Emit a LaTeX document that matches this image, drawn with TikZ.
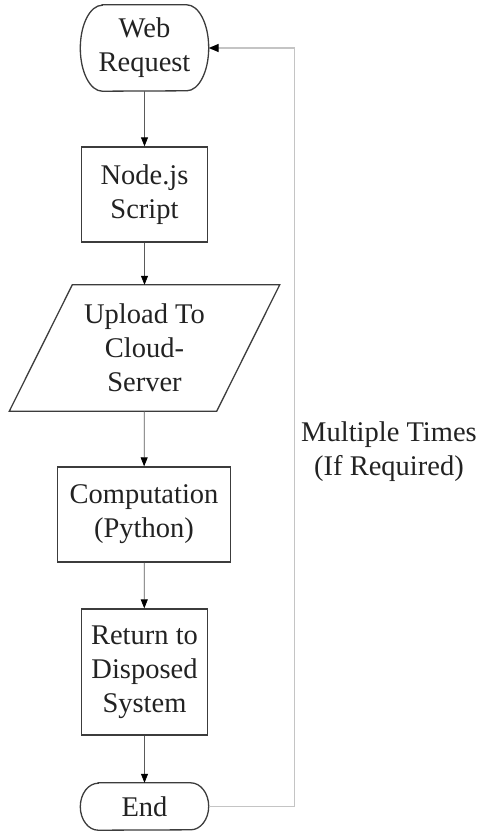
\documentclass[tikz,border=0pt]{standalone}
\usepackage{fontspec}
\setmainfont{Liberation Serif}
\usetikzlibrary{arrows.meta}
\definecolor{boxc}{HTML}{3C3C3C}
\definecolor{connc}{HTML}{5A5A5A}
\definecolor{fbc}{HTML}{C4C4C4}
\definecolor{txtc}{HTML}{222222}
\begin{document}
\begin{tikzpicture}[x=1pt,y=-1pt,
  txt/.style={align=center, inner sep=0pt, text=txtc, font=\fontsize{28.5}{34}\selectfont},
  box/.style={txt, draw=boxc, line width=1.3pt},
  outline/.style={draw=boxc, line width=1.3pt},
  conn/.style={draw=connc, line width=0.8pt, -{Triangle[length=9pt,width=7pt,color=black]}},
  fb/.style={draw=fbc, line width=1.4pt, -{Triangle[length=10pt,width=8pt,color=black]}}]
\useasboundingbox (0,0) rectangle (482,832);
\node[txt, minimum width=128pt, minimum height=86pt] (web) at (144.5,48) {Web\\Request};
\node[box, minimum width=126pt, minimum height=95pt] (nodejs) at (144.5,194.5) {Node.js\\Script};
\node[txt, minimum width=270pt, minimum height=126pt] (upload) at (144.5,348) {Upload To\\Cloud-\\Server};
\node[box, minimum width=173pt, minimum height=95pt] (comp) at (144,514.5) {Computation\\(Python)};
\node[box, minimum width=126pt, minimum height=126pt] (ret) at (144.5,672) {Return to\\Disposed\\System};
\node[txt, minimum width=128pt, minimum height=47pt] (end) at (144.5,806.5) {End};
\node[txt, anchor=base] (lbl) at (389,475) {Multiple Times\\(If Required)};
% terminal shapes
\draw[outline] ([xshift=22pt]web.north west) -- ([xshift=-22pt]web.north east)
  arc[start angle=90,end angle=-90,x radius=22pt,y radius=43pt]
  -- ([xshift=22pt]web.south west)
  arc[start angle=270,end angle=90,x radius=22pt,y radius=43pt] -- cycle;
\draw[outline] ([xshift=18pt]end.north west) -- ([xshift=-18pt]end.north east)
  arc[start angle=90,end angle=-90,x radius=18pt,y radius=23.5pt]
  -- ([xshift=18pt]end.south west)
  arc[start angle=270,end angle=90,x radius=18pt,y radius=23.5pt] -- cycle;
% parallelogram
\draw[outline] ([xshift=63pt]upload.north west) -- (upload.north east)
  -- ([xshift=-63pt]upload.south east) -- (upload.south west) -- cycle;
% connectors
\draw[conn] (web) -- (nodejs);
\draw[conn] (nodejs) -- (upload);
\draw[conn] (upload) -- (comp);
\draw[conn] (comp) -- (ret);
\draw[conn] (ret) -- (end);
\draw[fb] (end.east) -- ++(86,0) |- (web.east);
\end{tikzpicture}
\end{document}
